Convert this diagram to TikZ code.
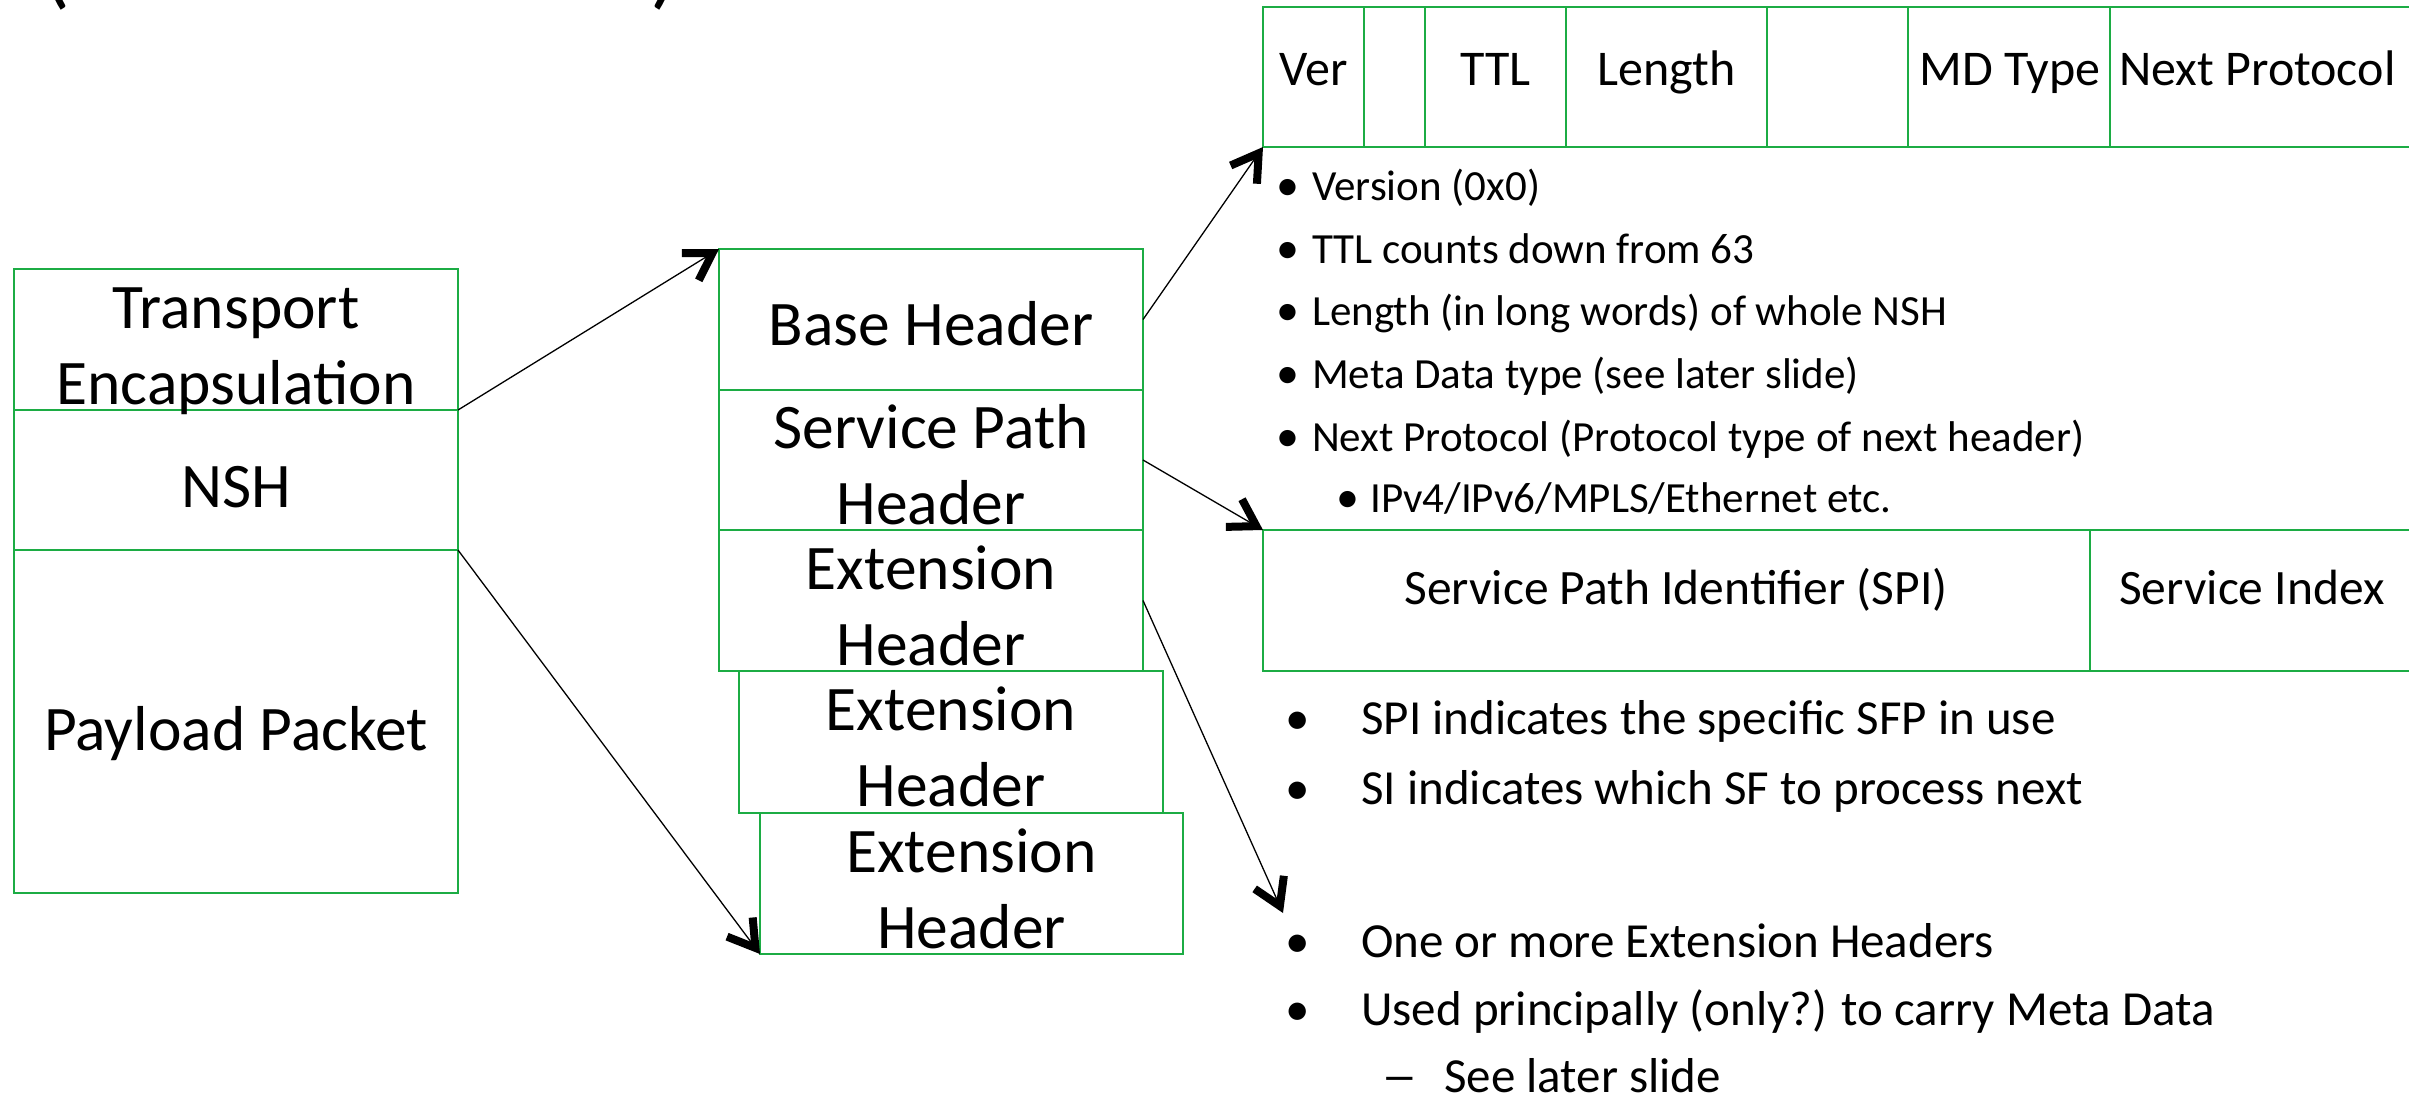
\documentclass[tikz,border=0pt]{standalone}
\usepackage{fontspec}
\setmainfont{Carlito}
\usetikzlibrary{arrows.meta}
\definecolor{gline}{RGB}{28,172,68}
\tikzset{
  gbox/.style={draw=gline, line width=2.8pt, inner sep=0pt, outer sep=0pt, rectangle},
  bigt/.style={font=\fontsize{63.5}{76}\selectfont, inner sep=0pt, anchor=base},
  cellt/.style={font=\fontsize{50}{60}\selectfont, inner sep=0pt, anchor=base},
  cellw/.style={font=\fontsize{50}{60}\selectfont, inner sep=0pt, anchor=base west},
  spit/.style={font=\fontsize{49.5}{58}\selectfont, inner sep=0pt, anchor=base},
  spiw/.style={font=\fontsize{49.5}{58}\selectfont, inner sep=0pt, anchor=base west},
  lone/.style={font=\fontsize{43}{50}\selectfont, inner sep=0pt, anchor=base west},
  lonebul/.style={font=\fontsize{46}{50}\selectfont, inner sep=0pt, anchor=base},
  ltwo/.style={font=\fontsize{49}{58}\selectfont, inner sep=0pt, anchor=base west},
  ltwobul/.style={font=\fontsize{49}{58}\selectfont, inner sep=0pt, anchor=base},
  titlep/.style={font=\fontsize{92}{100}\selectfont, inner sep=0pt, anchor=base},
  conn/.style={line width=1.3pt, -{Straight Barb[length=26pt,width=32pt,line width=8pt,sharp]}},
}
\newcommand{\gboxnode}[5]{\node[gbox, minimum width={(#4-#2)*1pt}, minimum height={(#5-#3)*1pt}] (#1) at ({(#2+#4)/2},{(#3+#5)/2}) {};}
\begin{document}
\begin{tikzpicture}[x=1pt,y=-1pt]
\useasboundingbox (0,0) rectangle (2409,1096);
% cut-off title parentheses
\node[titlep] (parl) at (56,-3) {(};
\node[titlep] (parr) at (664,-3) {)};
% left packet
\gboxnode{trans}{14}{269}{458}{410}
\gboxnode{nsh}{14}{410}{458}{550}
\gboxnode{payload}{14}{550}{458}{893}
\node[bigt] (transA) at (236,328) {Transport};
\node[bigt] (transB) at (236,404) {Encapsulation};
\node[bigt] (nshT) at (236,507) {NSH};
\node[bigt] (payT) at (236,750) {Payload Packet};
% middle stack
\gboxnode{base}{719}{249}{1143}{390}
\gboxnode{sph}{719}{390}{1143}{530}
\gboxnode{ehone}{719}{530}{1143}{671}
\gboxnode{ehtwo}{739}{671}{1163}{813}
\gboxnode{ehthree}{760}{813}{1183}{954}
\node[bigt] (baseT) at (931,345) {Base Header};
\node[bigt] (sphA) at (931,448) {Service Path};
\node[bigt] (sphB) at (931,524) {Header};
\node[bigt] (ehoneA) at (931,589) {Extension};
\node[bigt] (ehoneB) at (931,665) {Header};
\node[bigt] (ehtwoA) at (951,730) {Extension};
\node[bigt] (ehtwoB) at (951,806) {Header};
\node[bigt] (ehthreeA) at (971.5,872) {Extension};
\node[bigt] (ehthreeB) at (971.5,948) {Header};
% base header table
\gboxnode{cA}{1263}{7}{1364}{147}
\gboxnode{cB}{1364}{7}{1425}{147}
\gboxnode{cC}{1425}{7}{1566}{147}
\gboxnode{cD}{1566}{7}{1767}{147}
\gboxnode{cE}{1767}{7}{1908}{147}
\gboxnode{cF}{1908}{7}{2110}{147}
\gboxnode{cG}{2110}{7}{2450}{147}
\node[cellt] (verT) at (1313.5,85) {Ver};
\node[cellt] (ttlT) at (1495.5,85) {TTL};
\node[cellt] (lenT) at (1666.5,85) {Length};
\node[cellt] (mdT) at (2010,85) {MD Type};
\node[cellw] (npT) at (2119,85) {Next Protocol};
% service path table
\gboxnode{sA}{1263}{530}{2090}{671}
\gboxnode{sB}{2090}{530}{2450}{671}
\node[spit] (spiT) at (1676,604) {Service Path Identifier (SPI)};
\node[spiw] (siT) at (2119,604) {Service Index};
% bullet list 1
\node[lonebul] (bA) at (1288,200.7) {•};
\node[lone] (tA) at (1312,200.7) {Version (0x0)};
\node[lonebul] (bB) at (1288,263) {•};
\node[lone] (tB) at (1312,263) {TTL counts down from 63};
\node[lonebul] (bC) at (1288,325.5) {•};
\node[lone] (tC) at (1312,325.5) {Length (in long words) of whole NSH};
\node[lonebul] (bD) at (1288,388) {•};
\node[lone] (tD) at (1312,388) {Meta Data type (see later slide)};
\node[lonebul] (bE) at (1288,451) {•};
\node[lone] (tE) at (1312,451) {Next Protocol (Protocol type of next header)};
\node[lonebul] (bF) at (1348,512) {•};
\node[lone] (tF) at (1370,512) {IPv4/IPv6/MPLS/Ethernet etc.};
% bullet list 2
\node[ltwobul] (bG) at (1298,734) {•};
\node[ltwo] (tG) at (1361,734) {SPI indicates the specific SFP in use};
\node[ltwobul] (bH) at (1298,804) {•};
\node[ltwo] (tH) at (1361,804) {SI indicates which SF to process next};
% bullet list 3
\node[ltwobul] (bI) at (1298,957) {•};
\node[ltwo] (tI) at (1361,957) {One or more Extension Headers};
\node[ltwobul] (bJ) at (1298,1025.5) {•};
\node[ltwo] (tJ) at (1361,1025.5) {Used principally (only?) to carry Meta Data};
\node[ltwobul] (bK) at (1400,1092) {\scalebox{1.5}[1]{–}};
\node[ltwo] (tK) at (1444,1092) {See later slide};
% connectors
\coordinate (eFive) at (1283,913);
\draw[conn] (nsh.north east) -- (base.north west);
\draw[conn] (nsh.south east) -- (ehthree.south west);
\draw[conn] (base.east) -- (cA.south west);
\draw[conn] (sph.east) -- (sA.north west);
\draw[conn] (ehone.east) -- (eFive);
\end{tikzpicture}
\end{document}
